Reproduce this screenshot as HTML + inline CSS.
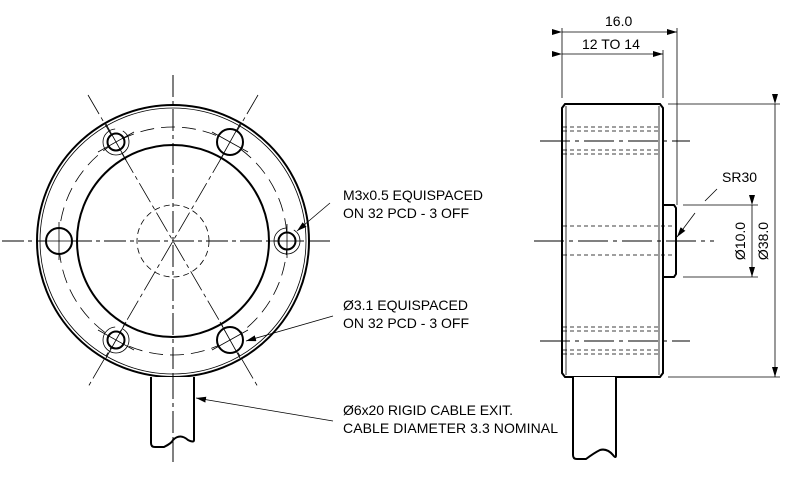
<!DOCTYPE html>
<html><head><meta charset="utf-8"><style>
html,body{margin:0;padding:0;background:#fff}
svg{display:block}
text{font-family:"Liberation Sans",sans-serif;font-size:14px;fill:#000}
</style></head><body>
<svg width="800" height="486" viewBox="0 0 800 486" xmlns="http://www.w3.org/2000/svg">
<defs>
<marker id="a" viewBox="0 0 10 6" refX="10" refY="3" markerWidth="10" markerHeight="6" orient="auto" markerUnits="userSpaceOnUse"><path d="M0,0 L10,3 L0,6 z" fill="#000"/></marker>
</defs>
<g fill="none" stroke="#000">
<!-- front view -->
<line x1="173" y1="75" x2="173" y2="462" stroke-width="1" stroke-dasharray="22,4,4,4"/>
<line x1="2" y1="241" x2="330" y2="241" stroke-width="1" stroke-dasharray="22,4,4,4"/>
<line x1="88" y1="95" x2="258" y2="387" stroke-width="0.8" stroke-dasharray="22,4,4,4"/>
<line x1="258" y1="95" x2="88" y2="387" stroke-width="0.8" stroke-dasharray="22,4,4,4"/>
<circle cx="173" cy="241" r="136" stroke-width="2"/>
<circle cx="173" cy="241" r="133" stroke-width="0.8"/>
<circle cx="173" cy="241" r="96" stroke-width="2"/>
<circle cx="173" cy="241" r="114" stroke-width="0.8" stroke-dasharray="14,7"/>
<circle cx="173" cy="241" r="36" stroke-width="0.8" stroke-dasharray="6,4"/>
<!-- large holes -->
<circle cx="59" cy="241" r="13" stroke-width="2" fill="#fff"/>
<circle cx="230" cy="142" r="13" stroke-width="2" fill="#fff"/>
<circle cx="230" cy="340" r="13" stroke-width="2" fill="#fff"/>
<!-- small holes -->
<circle cx="287" cy="241" r="8.5" stroke-width="2" fill="#fff"/>
<circle cx="287" cy="241" r="13" stroke-width="0.8" stroke-dasharray="60,8"/>
<circle cx="116" cy="142" r="8.5" stroke-width="2" fill="#fff"/>
<circle cx="116" cy="142" r="13" stroke-width="0.8" stroke-dasharray="60,8"/>
<circle cx="116" cy="340" r="8.5" stroke-width="2" fill="#fff"/>
<circle cx="116" cy="340" r="13" stroke-width="0.8" stroke-dasharray="60,8"/>
<g stroke-width="0.8">
<line x1="59" y1="222" x2="59" y2="260"/><line x1="40" y1="241" x2="78" y2="241"/>
<line x1="287" y1="224" x2="287" y2="258"/><line x1="270" y1="241" x2="304" y2="241"/>
<line x1="220" y1="160" x2="240" y2="124"/><line x1="212" y1="132" x2="248" y2="152"/>
<line x1="220" y1="322" x2="240" y2="358"/><line x1="212" y1="350" x2="248" y2="330"/>
<line x1="106" y1="124" x2="126" y2="160"/><line x1="98" y1="152" x2="134" y2="132"/>
<line x1="106" y1="358" x2="126" y2="322"/><line x1="98" y1="330" x2="134" y2="350"/>
</g>
<!-- cable -->
<path d="M151,377 L151,443 Q151,447 155,447 L164,447 Q172,443 173,440 Q180,433 188,440 Q194,443 194,440 L194,377" stroke-width="2" fill="#fff"/>
<line x1="173" y1="377" x2="173" y2="462" stroke-width="1" stroke-dasharray="22,4,4,4"/>
<!-- leaders -->
<line x1="330" y1="203" x2="297" y2="231" stroke-width="0.8" marker-end="url(#a)"/>
<line x1="333" y1="316" x2="246" y2="341" stroke-width="0.8" marker-end="url(#a)"/>
<line x1="333" y1="421" x2="196" y2="398" stroke-width="0.8" marker-end="url(#a)"/>

<!-- side view -->
<g stroke-width="1" stroke-dasharray="30,5,4,5">
<line x1="540" y1="141" x2="690" y2="141"/>
<line x1="534" y1="241" x2="714" y2="241"/>
<line x1="540" y1="341" x2="690" y2="341"/>
</g>
<path d="M565,104 L660,104 L663,108 L663,373 L660,377 L565,377 L562,373 L562,108 Z" stroke-width="2" fill="none"/>
<line x1="566" y1="106" x2="566" y2="375" stroke-width="0.8"/>
<line x1="659" y1="106" x2="659" y2="375" stroke-width="0.8"/>
<g stroke-width="0.8" stroke-dasharray="4,3">
<line x1="563" y1="127" x2="658" y2="127"/><line x1="563" y1="131" x2="658" y2="131"/>
<line x1="563" y1="150" x2="658" y2="150"/><line x1="563" y1="154" x2="658" y2="154"/>
<line x1="563" y1="226" x2="676" y2="226"/><line x1="563" y1="255" x2="676" y2="255"/>
<line x1="563" y1="327" x2="658" y2="327"/><line x1="563" y1="331" x2="658" y2="331"/>
<line x1="563" y1="350" x2="658" y2="350"/><line x1="563" y1="354" x2="658" y2="354"/>
</g>
<path d="M663,205 L674,205 L676,208 L676,274 L674,277 L663,277" stroke-width="2"/>
<path d="M573,377 L573,455 Q573,459 577,459 L586,459 Q594,453 600,450 Q607,448 613,455 Q616,459 616,455 L616,377" stroke-width="2" fill="#fff"/>
<!-- dims -->
<g stroke-width="0.8">
<line x1="562" y1="28" x2="562" y2="98"/>
<line x1="677" y1="28" x2="677" y2="205"/>
<line x1="663" y1="50" x2="663" y2="98"/>
<line x1="562" y1="32" x2="677" y2="32" marker-start="url(#a)" marker-end="url(#a)"/>
<line x1="562" y1="54" x2="663" y2="54" marker-start="url(#a)" marker-end="url(#a)"/>
<line x1="668" y1="104" x2="780" y2="104"/>
<line x1="668" y1="377" x2="780" y2="377"/>
<line x1="775" y1="104" x2="775" y2="377" marker-start="url(#a)" marker-end="url(#a)"/>
<line x1="683" y1="205" x2="758" y2="205"/>
<line x1="683" y1="277" x2="758" y2="277"/>
<line x1="752" y1="205" x2="752" y2="277" marker-start="url(#a)" marker-end="url(#a)"/>
<line x1="717" y1="189" x2="705" y2="201"/>
<line x1="695" y1="213" x2="677" y2="237" marker-end="url(#a)"/>
</g>
</g>
<text x="605" y="26">16.0</text>
<text x="582" y="49">12 TO 14</text>
<text x="722" y="182">SR30</text>
<text transform="translate(745,241) rotate(-90)" text-anchor="middle">Ø10.0</text>
<text transform="translate(768,241) rotate(-90)" text-anchor="middle">Ø38.0</text>
<text x="343" y="200" textLength="140">M3x0.5 EQUISPACED</text>
<text x="343" y="218" textLength="126">ON 32 PCD - 3 OFF</text>
<text x="343" y="310" textLength="125">Ø3.1 EQUISPACED</text>
<text x="343" y="328" textLength="126">ON 32 PCD - 3 OFF</text>
<text x="343" y="415" textLength="170">Ø6x20 RIGID CABLE EXIT.</text>
<text x="343" y="433" textLength="215">CABLE DIAMETER 3.3 NOMINAL</text>
</svg>
</body></html>
